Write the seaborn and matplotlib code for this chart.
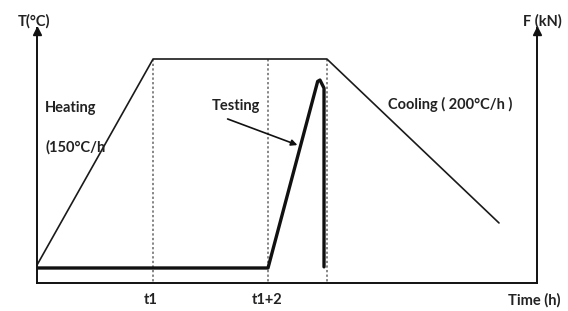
import matplotlib
matplotlib.use("Agg")
import matplotlib.pyplot as plt
import seaborn as sns
import pandas as pd

# Temperature profile (time in h, temperature in arbitrary units)
temp_time = [0.0, 2.01, 5.02, 8.0]
temp_value = [0.80, 10.0, 10.0, 2.68]

# Force profile
force_time = [0.0, 4.0, 4.86, 4.90, 4.97, 4.97]
force_value = [0.67, 0.67, 9.0, 9.06, 8.7, 0.72]

# Marker times (dotted verticals)
marker_times = [2.01, 4.0, 5.02]
marker_top = 10.0
tick_labels = ["t1", "t1+2"]

sns.set_theme(style="white")
plt.rcParams["font.family"] = ["Lato", "DejaVu Sans"]

W, H = 568, 311
fig = plt.figure(figsize=(W / 100, H / 100), dpi=100)
x0, x1, y0, y1 = 37, 537, 283, 28
ax = fig.add_axes([x0 / W, (H - y0) / H, (x1 - x0) / W, (y0 - y1) / H])
ax.set_xlim(0, (x1 - x0) / 57.75)
ax.set_ylim(0, (y0 - y1) / 22.4)

df_t = pd.DataFrame({"t": temp_time, "v": temp_value})
df_f = pd.DataFrame({"t": force_time, "v": force_value})

for mt in marker_times:
    ax.plot([mt, mt], [-0.15, marker_top], color="#666666", lw=1.1, ls=(0, (1.5, 1.5)))

sns.lineplot(data=df_t, x="t", y="v", sort=False, estimator=None,
             color="#1a1a1a", lw=1.2, ax=ax)
sns.lineplot(data=df_f, x="t", y="v", sort=False, estimator=None,
             color="#111111", lw=2.4, ax=ax)

ax.set_xlabel("")
ax.set_ylabel("")
ax.set_xticks([])
ax.set_yticks([])
for s in ["left", "right", "bottom"]:
    ax.spines[s].set_color("#111111")
    ax.spines[s].set_linewidth(1.4)
ax.spines["top"].set_visible(False)

# arrowheads on vertical axes
ytop = ax.get_ylim()[1]
xright = ax.get_xlim()[1]
for xx in [0, xright]:
    ax.plot([xx], [ytop - 0.12], marker="^", ms=6, color="#111111", clip_on=False)

fs = 10.5
kw = dict(fontsize=fs, fontweight="bold", color="#222222")
fig.text(34 / W, 1 - 21 / H, "T(°C)", ha="center", va="center", **kw)
fig.text(542 / W, 1 - 21 / H, "F (kN)", ha="center", va="center", **kw)
fig.text(534 / W, 1 - 300 / H, "Time (h)", ha="center", va="center", **kw)
fig.text(151 / W, 1 - 300 / H, tick_labels[0], ha="center", va="center", **kw)
fig.text(267 / W, 1 - 300 / H, tick_labels[1], ha="center", va="center", **kw)
fig.text(45 / W, 1 - 108 / H, "Heating", ha="left", va="center", **kw)
fig.text(45 / W, 1 - 147 / H, "(150°C/h", ha="left", va="center", **kw)
fig.text(212 / W, 1 - 106 / H, "Testing", ha="left", va="center", **kw)
fig.text(388 / W, 1 - 104 / H, "Cooling ( 200°C/h )", ha="left", va="center", **kw)

ax.annotate("", xy=((300 - x0) / 57.75, (y0 - 146) / 22.4),
            xytext=((225 - x0) / 57.75, (y0 - 118) / 22.4),
            arrowprops=dict(arrowstyle="-|>", color="#111111", lw=1.2, mutation_scale=9))

fig.savefig("out.png", dpi=100)
